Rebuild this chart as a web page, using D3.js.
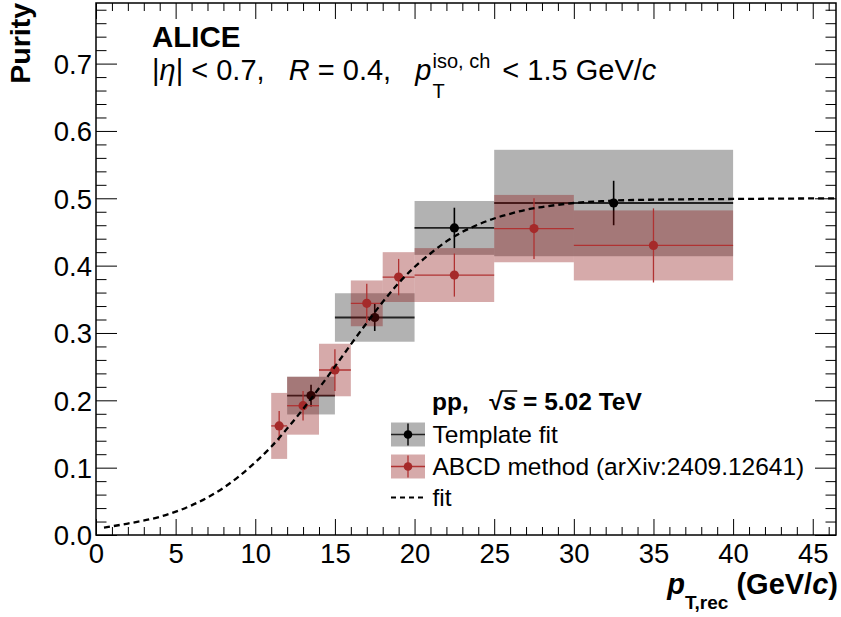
<!DOCTYPE html>
<html><head><meta charset="utf-8">
<script src="https://cdn.jsdelivr.net/npm/d3@7"></script>
<style>
body{margin:0;background:#fff;}
text{font-family:"Liberation Sans",Arial,Helvetica,sans-serif;}
</style></head><body>
<svg id="c" width="841" height="617"></svg>
<script>
// ---------- data ----------
const xTicks=[0,5,10,15,20,25,30,35,40,45];
const yTicks=[0,0.1,0.2,0.3,0.4,0.5,0.6,0.7];
const yTickLabels=["0.0","0.1","0.2","0.3","0.4","0.5","0.6","0.7"];

// Template fit
const tmplLow=[12,15,20,25];
const tmplHigh=[15,20,25,40];
const tmplX=[13.5,17.5,22.5,32.5];
const tmplVal=[0.207,0.323,0.456,0.493];
const tmplStat=[0.016,0.020,0.030,0.033];
const tmplSys=[0.028,0.036,0.040,0.079];

// ABCD method
const abcdLow=[11,12,14,16,18,20,25,30];
const abcdHigh=[12,14,16,18,20,25,30,40];
const abcdX=[11.5,13,15,17,19,22.5,27.5,35];
const abcdVal=[0.162,0.192,0.245,0.344,0.383,0.386,0.455,0.430];
const abcdStat=[0.022,0.022,0.031,0.029,0.027,0.032,0.045,0.055];
const abcdSys=[0.049,0.043,0.039,0.034,0.037,0.040,0.050,0.052];

// fit curve
const fitX=[0.5,2,4,6,8,10,11,12,13,14,15,16,17,18,19,20,21,22,23,24,25,26,27,28,30,32,35,40,46.4];
const fitY=[0.011,0.017,0.027,0.044,0.070,0.108,0.131,0.158,0.187,0.218,0.250,0.283,0.315,0.346,0.374,0.398,0.418,0.436,0.450,0.461,0.470,0.477,0.483,0.487,0.493,0.496,0.498,0.499,0.500];

const legendLabels=["Template fit","ABCD method (arXiv:2409.12641)","fit"];

// ---------- drawing ----------
const svg=d3.select("#c");
const x=d3.scaleLinear().domain([0,46.46]).range([96,836]);
const y=d3.scaleLinear().domain([0,0.79]).range([535,3]);
const FONT='"Liberation Sans",Arial,Helvetica,sans-serif';

svg.append("defs").append("clipPath").attr("id","clip")
  .append("rect").attr("x",96).attr("y",3).attr("width",740).attr("height",532);

const plot=svg.append("g").attr("clip-path","url(#clip)");

const grayFill="#000", grayOp=0.3;
const redFill="rgb(138,12,12)", redOp=0.35;
const redMarker="#a52a2a", redLine="#b03232";

// gray boxes
plot.selectAll(".gbox").data(tmplVal).join("rect")
  .attr("x",(d,i)=>x(tmplLow[i])).attr("width",(d,i)=>x(tmplHigh[i])-x(tmplLow[i]))
  .attr("y",(d,i)=>y(d+tmplSys[i])).attr("height",(d,i)=>y(d-tmplSys[i])-y(d+tmplSys[i]))
  .attr("fill",grayFill).attr("fill-opacity",grayOp);
// template errors
plot.selectAll(".gh").data(tmplVal).join("line")
  .attr("x1",(d,i)=>x(tmplLow[i])).attr("x2",(d,i)=>x(tmplHigh[i]))
  .attr("y1",d=>y(d)).attr("y2",d=>y(d)).attr("stroke","#222").attr("stroke-width",1.8);
plot.selectAll(".gv").data(tmplVal).join("line")
  .attr("x1",(d,i)=>x(tmplX[i])).attr("x2",(d,i)=>x(tmplX[i]))
  .attr("y1",(d,i)=>y(d+tmplStat[i])).attr("y2",(d,i)=>y(d-tmplStat[i])).attr("stroke","#000").attr("stroke-width",1.6);
plot.selectAll(".gm").data(tmplVal).join("circle")
  .attr("cx",(d,i)=>x(tmplX[i])).attr("cy",d=>y(d)).attr("r",4.6).attr("fill","#000");

// red boxes
plot.selectAll(".rbox").data(abcdVal).join("rect")
  .attr("x",(d,i)=>x(abcdLow[i])).attr("width",(d,i)=>x(abcdHigh[i])-x(abcdLow[i]))
  .attr("y",(d,i)=>y(d+abcdSys[i])).attr("height",(d,i)=>y(d-abcdSys[i])-y(d+abcdSys[i]))
  .attr("fill",redFill).attr("fill-opacity",redOp);
plot.selectAll(".rh").data(abcdVal).join("line")
  .attr("x1",(d,i)=>x(abcdLow[i])).attr("x2",(d,i)=>x(abcdHigh[i]))
  .attr("y1",d=>y(d)).attr("y2",d=>y(d)).attr("stroke",redLine).attr("stroke-width",1.3);
plot.selectAll(".rv").data(abcdVal).join("line")
  .attr("x1",(d,i)=>x(abcdX[i])).attr("x2",(d,i)=>x(abcdX[i]))
  .attr("y1",(d,i)=>y(d+abcdStat[i])).attr("y2",(d,i)=>y(d-abcdStat[i])).attr("stroke",redLine).attr("stroke-width",1.3);
plot.selectAll(".rm").data(abcdVal).join("circle")
  .attr("cx",(d,i)=>x(abcdX[i])).attr("cy",d=>y(d)).attr("r",4.6).attr("fill",redMarker);

// fit curve
const line=d3.line().x(d=>x(d[0])).y(d=>y(d[1])).curve(d3.curveMonotoneX);
plot.append("path").datum(fitX.map((v,i)=>[v,fitY[i]]))
  .attr("d",line).attr("fill","none").attr("stroke","#000").attr("stroke-width",2.3)
  .attr("stroke-dasharray","6,4");

// axes / ticks
function axisG(axis,tx,ty){
  const g=svg.append("g").attr("transform",`translate(${tx},${ty})`).call(axis);
  g.select(".domain").remove();
  g.attr("font-family",FONT).attr("font-size",27.5);
  g.selectAll("text").attr("fill","#000");
  return g;
}
const xMinor=d3.range(0,47,1).filter(v=>v%5!==0);
const yMinor=d3.range(0,40,1).map(v=>v*0.02).filter((v,i)=>i%5!==0);
axisG(d3.axisBottom(x).tickValues(xTicks).tickSize(-16).tickPadding(8).tickFormat(d3.format("d")),0,535);
axisG(d3.axisBottom(x).tickValues(xMinor).tickSize(-8).tickFormat(""),0,535);
axisG(d3.axisTop(x).tickValues(xTicks).tickSize(-16).tickFormat(""),0,3);
axisG(d3.axisTop(x).tickValues(xMinor).tickSize(-8).tickFormat(""),0,3);
const yl=axisG(d3.axisLeft(y).tickValues(yTicks).tickSize(-21).tickPadding(4).tickFormat((d,i)=>yTickLabels[i]),96,0);
yl.selectAll("text").attr("dy","0.36em");
axisG(d3.axisLeft(y).tickValues(yMinor).tickSize(-10.5).tickFormat(""),96,0);
axisG(d3.axisRight(y).tickValues(yTicks).tickSize(-21).tickFormat(""),836,0);
axisG(d3.axisRight(y).tickValues(yMinor).tickSize(-10.5).tickFormat(""),836,0);

// frame
svg.append("rect").attr("x",96).attr("y",3).attr("width",740).attr("height",532)
  .attr("fill","none").attr("stroke","#000").attr("stroke-width",1.5);

// text helper
function seq(g,x0,yb,pieces){
  let cx=x0; const out=[];
  pieces.forEach(p=>{
    const t=g.append("text").attr("x",cx).attr("y",yb+(p.dy||0))
      .attr("font-size",p.size).attr("font-weight",p.weight||"normal")
      .attr("font-style",p.style||"normal").style("white-space","pre").attr("fill","#000").text(p.t);
    const w=t.node().getComputedTextLength();
    out.push({x:cx,w,node:t});
    if(!p.noAdvance) cx+=w;
  });
  return {end:cx,out};
}

// y title
svg.append("text").attr("transform","translate(30,3) rotate(-90)")
  .attr("text-anchor","end").attr("font-size",28.5).attr("font-weight","bold").text("Purity");

// x title
const xt=svg.append("g");
const xr=seq(xt,0,594,[
  {t:"p",size:29,weight:"bold",style:"italic"},
  {t:"T,rec",size:19,weight:"bold",dy:15},
  {t:" (GeV/",size:29,weight:"bold"},
  {t:"c",size:29,weight:"bold",style:"italic"},
  {t:")",size:29,weight:"bold"}]);
xt.attr("transform",`translate(${838-xr.end},0)`);

// header
svg.append("text").attr("x",152).attr("y",47).attr("font-size",29.5).attr("font-weight","bold").text("ALICE");
const hg=svg.append("g");
const h1=seq(hg,152,80,[
  {t:"|",size:29},{t:"η",size:29,style:"italic"},{t:"| < 0.7,   ",size:29},
  {t:"R",size:29,style:"italic"},{t:" = 0.4,   ",size:29},
  {t:"p",size:29,style:"italic"}]);
const h2=seq(hg,h1.end+1,80,[
  {t:"T",size:20,dy:18,noAdvance:true},
  {t:"iso, ch",size:20,dy:-12}]);
seq(hg,h2.end+4,80,[{t:" < 1.5 GeV/",size:29},{t:"c",size:29,style:"italic"}]);

// legend
const lg=svg.append("g");
const lh=seq(lg,432,410,[
  {t:"pp,   ",size:24.5,weight:"bold"},
  {t:"√",size:24.5,weight:"bold"},
  {t:"s",size:24.5,weight:"bold",style:"italic"},
  {t:" = 5.02 TeV",size:24.5,weight:"bold"}]);
lg.append("line").attr("x1",lh.out[2].x-1).attr("x2",lh.out[2].x+lh.out[2].w+1)
  .attr("y1",410-19).attr("y2",410-19).attr("stroke","#000").attr("stroke-width",1.5);

const rowY=[434.5,466.5,497.5];
const bx0=391,bx1=425,bh=24;
// template
lg.append("rect").attr("x",bx0).attr("y",rowY[0]-bh/2).attr("width",bx1-bx0).attr("height",bh).attr("fill",grayFill).attr("fill-opacity",grayOp);
lg.append("line").attr("x1",bx0).attr("x2",bx1).attr("y1",rowY[0]).attr("y2",rowY[0]).attr("stroke","#222").attr("stroke-width",1.6);
lg.append("line").attr("x1",(bx0+bx1)/2).attr("x2",(bx0+bx1)/2).attr("y1",rowY[0]-bh/2+1).attr("y2",rowY[0]+bh/2-1).attr("stroke","#000").attr("stroke-width",1.4);
lg.append("circle").attr("cx",(bx0+bx1)/2).attr("cy",rowY[0]).attr("r",4.3).attr("fill","#000");
// abcd
lg.append("rect").attr("x",bx0).attr("y",rowY[1]-bh/2).attr("width",bx1-bx0).attr("height",bh).attr("fill",redFill).attr("fill-opacity",redOp);
lg.append("line").attr("x1",bx0).attr("x2",bx1).attr("y1",rowY[1]).attr("y2",rowY[1]).attr("stroke",redLine).attr("stroke-width",1.3);
lg.append("line").attr("x1",(bx0+bx1)/2).attr("x2",(bx0+bx1)/2).attr("y1",rowY[1]-bh/2+1).attr("y2",rowY[1]+bh/2-1).attr("stroke",redLine).attr("stroke-width",1.3);
lg.append("circle").attr("cx",(bx0+bx1)/2).attr("cy",rowY[1]).attr("r",4.3).attr("fill",redMarker);
// fit
lg.append("line").attr("x1",bx0).attr("x2",bx1-1).attr("y1",rowY[2]).attr("y2",rowY[2]).attr("stroke","#000").attr("stroke-width",2.2).attr("stroke-dasharray","5,4");
legendLabels.forEach((t,i)=>{
  lg.append("text").attr("x",432.5).attr("y",rowY[i]+8.7).attr("font-size",24.5).attr("fill","#000").text(t);
});
</script>
</body></html>
